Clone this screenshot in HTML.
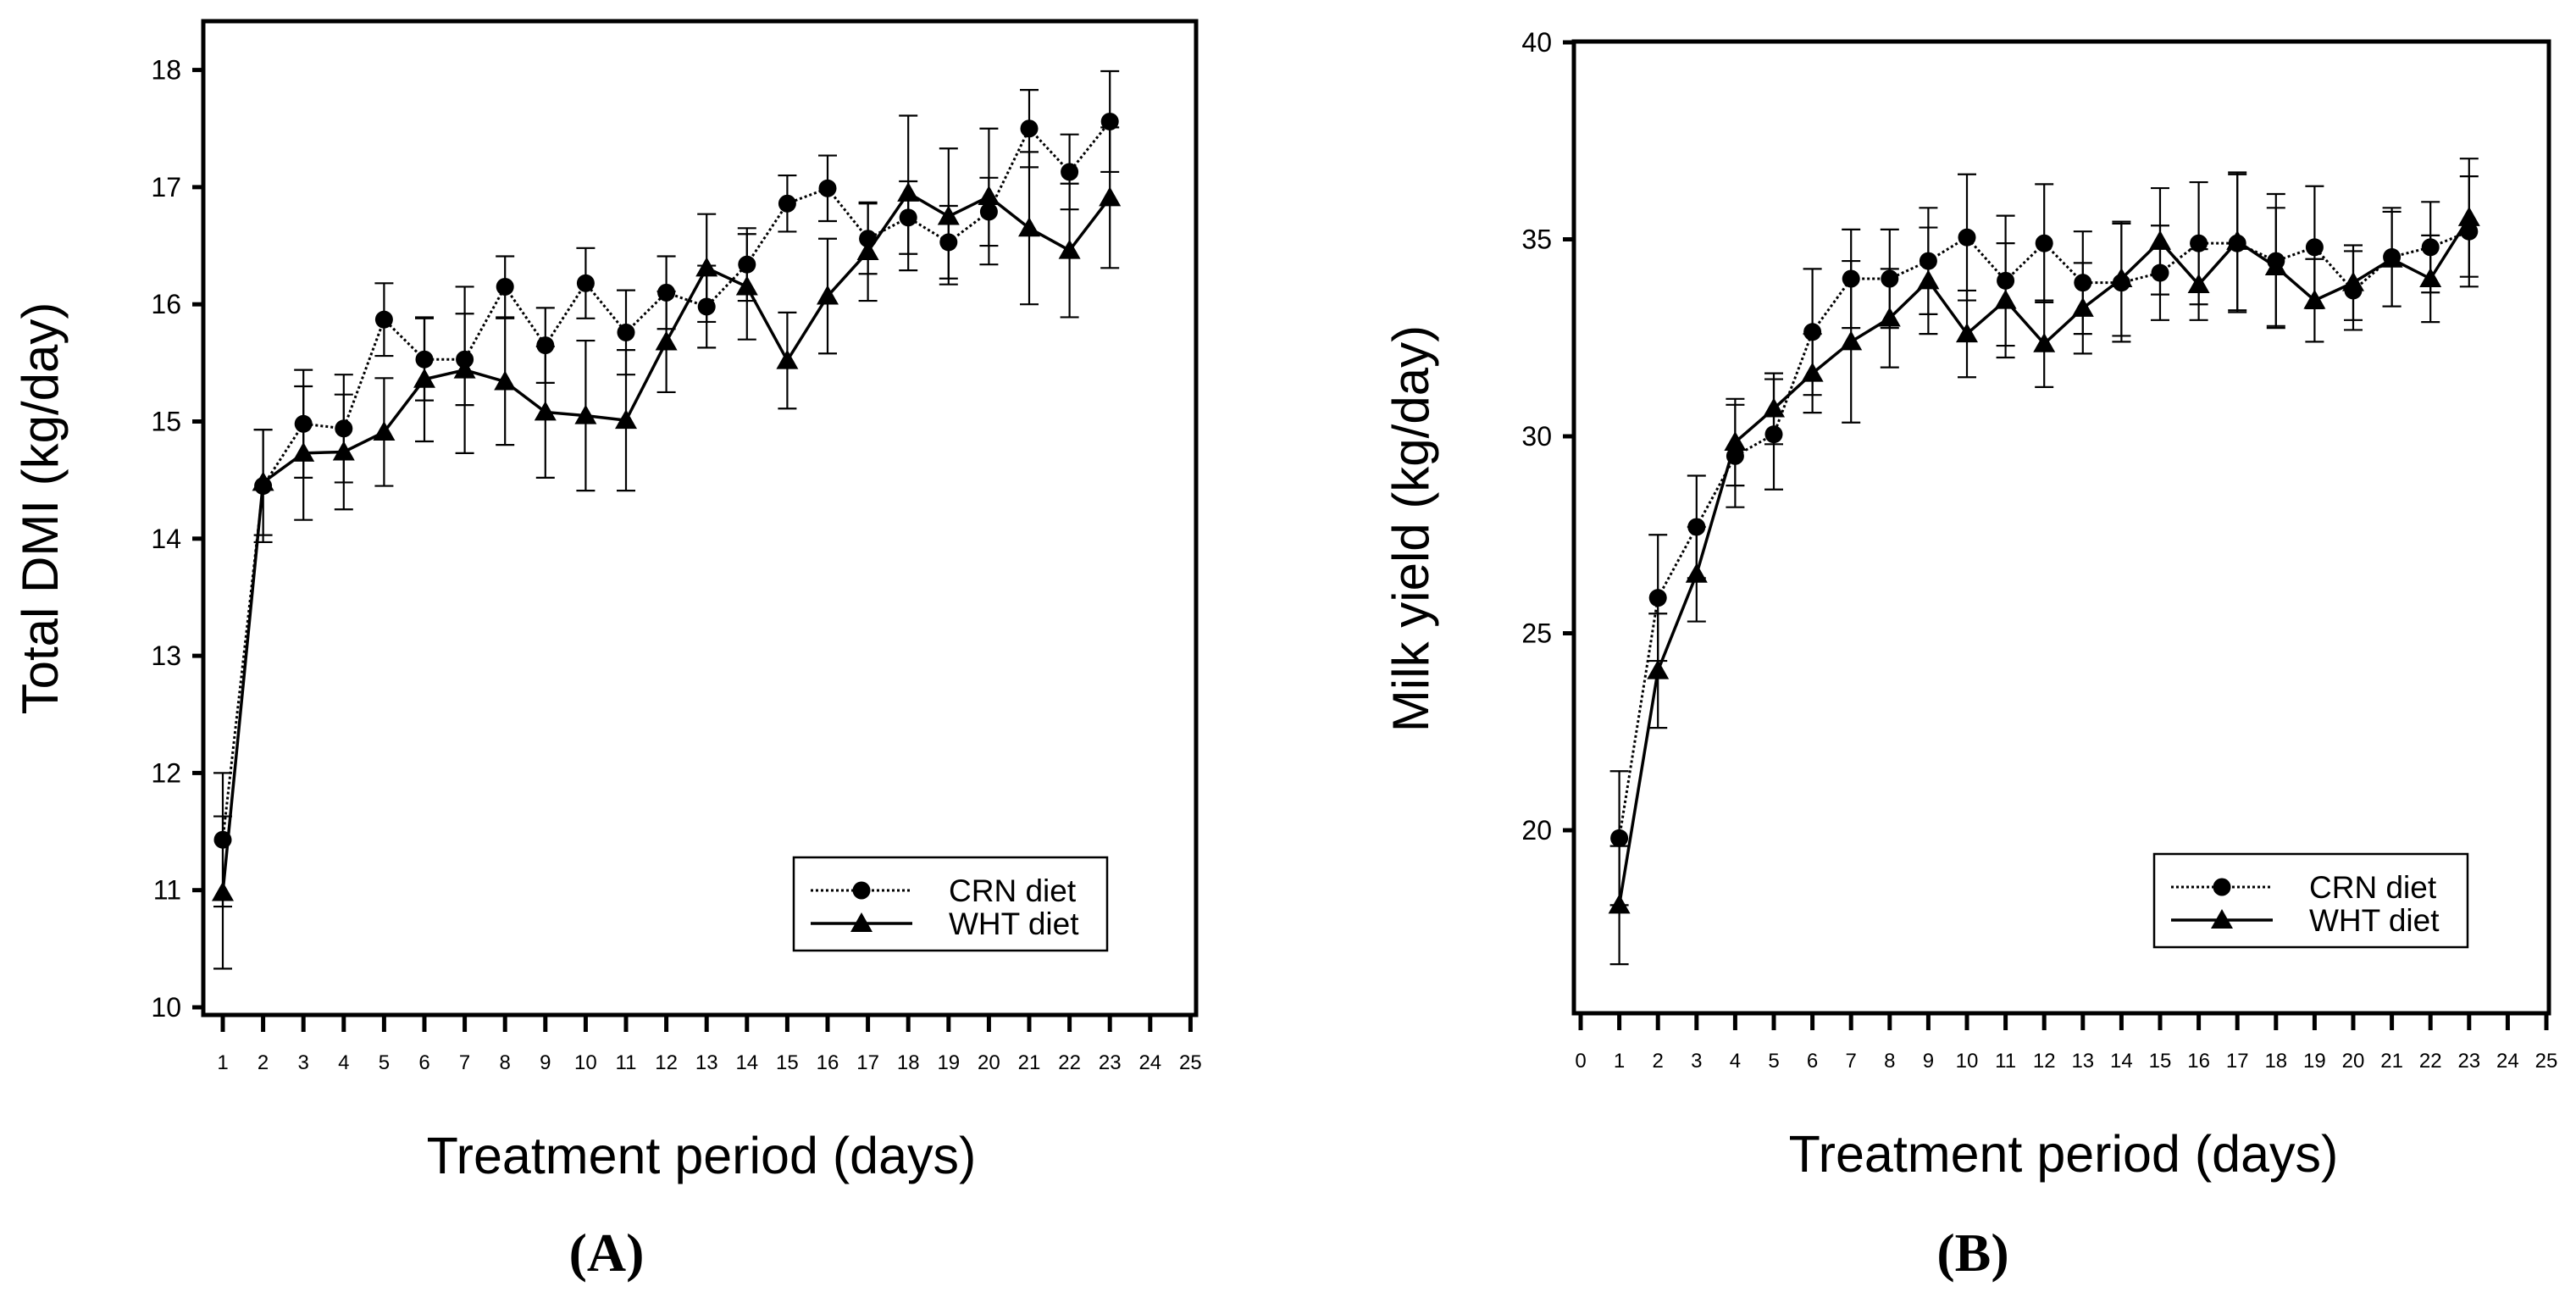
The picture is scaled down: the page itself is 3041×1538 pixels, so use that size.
<!DOCTYPE html>
<html><head><meta charset="utf-8">
<style>
html,body{margin:0;padding:0;background:#fff;}
svg{display:block;font-family:"Liberation Sans",sans-serif;}
</style></head>
<body>
<svg id="fig" width="3041" height="1538" viewBox="0 0 3041 1538" xmlns="http://www.w3.org/2000/svg">
<rect x="0" y="0" width="3041" height="1538" fill="#fff"/>
</svg>
<script>
const days = [1,2,3,4,5,6,7,8,9,10,11,12,13,14,15,16,17,18,19,20,21,22,23];
const xTicksA = [1,2,3,4,5,6,7,8,9,10,11,12,13,14,15,16,17,18,19,20,21,22,23,24,25];
const xTicksB = [0,1,2,3,4,5,6,7,8,9,10,11,12,13,14,15,16,17,18,19,20,21,22,23,24,25];
const yTicksA = [10,11,12,13,14,15,16,17,18];
const yTicksB = [20,25,30,35,40];
const dmiCRN = [11.43,14.45,14.98,14.94,15.87,15.53,15.53,16.15,15.65,16.18,15.76,16.10,15.98,16.34,16.86,16.99,16.56,16.74,16.53,16.79,17.50,17.13,17.56];
const dmiCRNErr = [0.57,0.48,0.46,0.46,0.31,0.35,0.39,0.26,0.32,0.30,0.36,0.31,0.35,0.31,0.24,0.28,0.30,0.31,0.31,0.29,0.33,0.32,0.43];
const dmiWHT = [10.98,14.48,14.73,14.74,14.91,15.36,15.44,15.34,15.08,15.05,15.01,15.68,16.31,16.15,15.52,16.07,16.45,16.95,16.75,16.92,16.65,16.46,16.91];
const dmiWHTErr = [0.65,0.45,0.57,0.49,0.46,0.53,0.71,0.54,0.56,0.64,0.60,0.43,0.46,0.45,0.41,0.49,0.42,0.66,0.58,0.58,0.65,0.57,0.60];
const milkCRN = [19.8,25.9,27.7,29.5,30.05,32.65,34.0,34.0,34.45,35.05,33.95,34.9,33.9,33.9,34.15,34.9,34.9,34.45,34.8,33.7,34.55,34.8,35.2];
const milkCRNErr = [1.7,1.6,1.3,1.3,1.4,1.6,1.25,1.25,1.35,1.6,1.65,1.5,1.3,1.5,1.2,1.55,1.75,1.7,1.55,1.0,1.25,1.15,1.4];
const milkWHT = [18.1,24.05,26.5,29.85,30.7,31.6,32.4,33.0,33.95,32.6,33.45,32.35,33.25,34.0,34.95,33.85,34.95,34.3,33.45,33.9,34.5,34.0,35.55];
const milkWHTErr = [1.5,1.45,1.2,1.1,0.9,1.0,2.05,1.25,1.35,1.1,1.45,1.1,1.15,1.45,1.35,0.9,1.75,1.5,1.05,0.95,1.2,1.1,1.5];

const NS = "http://www.w3.org/2000/svg";
const svg = document.getElementById('fig');
function mk(tag, attrs, parent, text){
  const e = document.createElementNS(NS, tag);
  for (const k in attrs) e.setAttribute(k, attrs[k]);
  if (text !== undefined) e.textContent = text;
  (parent || svg).appendChild(e);
  return e;
}

function panel(cfg){
  const g = mk('g', {});
  
  
  const X = d => cfg.x0 + (d - cfg.d0) * cfg.dx;
  const Y = v => cfg.y0 - (v - cfg.v0) * cfg.dy;
  const fr = mk('rect', {x:cfg.L, y:cfg.T, width:cfg.R-cfg.L, height:cfg.B-cfg.T, fill:'none', stroke:'#000', 'stroke-width':5}, g);
  
  
  cfg.yt.forEach(v => {
    const y = Y(v);
    mk('line', {x1:cfg.L-13, x2:cfg.L, y1:y, y2:y, stroke:'#000', 'stroke-width':5}, g);
    const t = mk('text', {x:cfg.L-26, y:y+11, 'font-size':32, 'text-anchor':'end'}, g, String(v));
    
    
  });
  cfg.xt.forEach(d => {
    const x = X(d);
    mk('line', {x1:x, x2:x, y1:cfg.B, y2:cfg.B+20, stroke:'#000', 'stroke-width':5}, g);
    const t = mk('text', {x:x, y:cfg.B+64, 'font-size':24, 'text-anchor':'middle'}, g, String(d));
    
    
  });
  const xt = mk('text', {x:cfg.xtx, y:cfg.B+187, 'font-size':61, 'text-anchor':'middle'}, g, 'Treatment period (days)');
  
  
  const yt = mk('text', {x:0, y:0, 'font-size':60, 'text-anchor':'middle', transform:`translate(${cfg.ytx},${cfg.yty}) rotate(-90)`}, g, cfg.ytitle);
  
  
  const lab = mk('text', {x:cfg.labx, y:1500, 'font-size':64, 'font-weight':'bold', 'text-anchor':'middle', 'font-family':'"Liberation Serif",serif'}, g, cfg.label);
  
  

  function series(vals, errs, kind){
    const sg = mk('g', {}, g);
    
    
    days.forEach((d,i) => {
      const x = X(d), y1 = Y(vals[i]+errs[i]), y2 = Y(vals[i]-errs[i]);
      const eb = mk('path', {d:`M${x},${y1}V${y2}M${x-11},${y1}H${x+11}M${x-11},${y2}H${x+11}`, stroke:'#000', 'stroke-width':2.2, fill:'none'}, sg);
      
      
    });
    const pts = days.map((d,i) => X(d) + ',' + Y(vals[i])).join(' ');
    const ln = mk('polyline', {points:pts, fill:'none', stroke:'#000', 'stroke-width': kind==='crn'?3:3.5, 'stroke-dasharray': kind==='crn'?'3,3':'none'}, sg);
    
    
    days.forEach((d,i) => {
      const x = X(d), y = Y(vals[i]);
      let m;
      if (kind === 'crn') m = mk('circle', {cx:x, cy:y, r:10.5, fill:'#000'}, sg);
      else m = mk('polygon', {points:`${x},${y-13} ${x-13},${y+10} ${x+13},${y+10}`, fill:'#000'}, sg);
      
      
    });
  }
  series(cfg.wht, cfg.whtErr, 'wht');
  series(cfg.crn, cfg.crnErr, 'crn');

  const lg = mk('g', {}, g);
  
  
  const lx = cfg.legx, ly = cfg.legy;
  mk('rect', {x:lx, y:ly, width:370, height:110, fill:'#fff', stroke:'#000', 'stroke-width':2.5}, lg);
  const e1 = mk('g', {}, lg);
  
  
  mk('line', {x1:lx+20, x2:lx+140, y1:ly+39, y2:ly+39, stroke:'#000', 'stroke-width':3, 'stroke-dasharray':'3,3'}, e1);
  mk('circle', {cx:lx+80, cy:ly+39, r:10.5, fill:'#000'}, e1);
  mk('text', {x:lx+183, y:ly+52, 'font-size':37}, e1, 'CRN diet');
  const e2 = mk('g', {}, lg);
  
  
  mk('line', {x1:lx+20, x2:lx+140, y1:ly+78, y2:ly+78, stroke:'#000', 'stroke-width':3.5}, e2);
  mk('polygon', {points:`${lx+80},${ly+65} ${lx+67},${ly+88} ${lx+93},${ly+88}`, fill:'#000'}, e2);
  mk('text', {x:lx+183, y:ly+91, 'font-size':37}, e2, 'WHT diet');
}

panel({id:'dmi', L:240, R:1412, T:25, B:1198, x0:263, d0:1, dx:47.6, y0:1189, v0:10, dy:138.3,
  xt:xTicksA, yt:yTicksA, crn:dmiCRN, crnErr:dmiCRNErr, wht:dmiWHT, whtErr:dmiWHTErr,
  ytitle:'Total DMI (kg/day)', ytx:68, yty:600, xtx:828, labx:716, label:'(A)', legx:937, legy:1012});
panel({id:'milk', L:1858, R:3009, T:49, B:1196, x0:1866, d0:0, dx:45.6, y0:980, v0:20, dy:46.5,
  xt:xTicksB, yt:yTicksB, crn:milkCRN, crnErr:milkCRNErr, wht:milkWHT, whtErr:milkWHTErr,
  ytitle:'Milk yield (kg/day)', ytx:1686, yty:624, xtx:2436, labx:2329, label:'(B)', legx:2543, legy:1008});
</script>
</body></html>
